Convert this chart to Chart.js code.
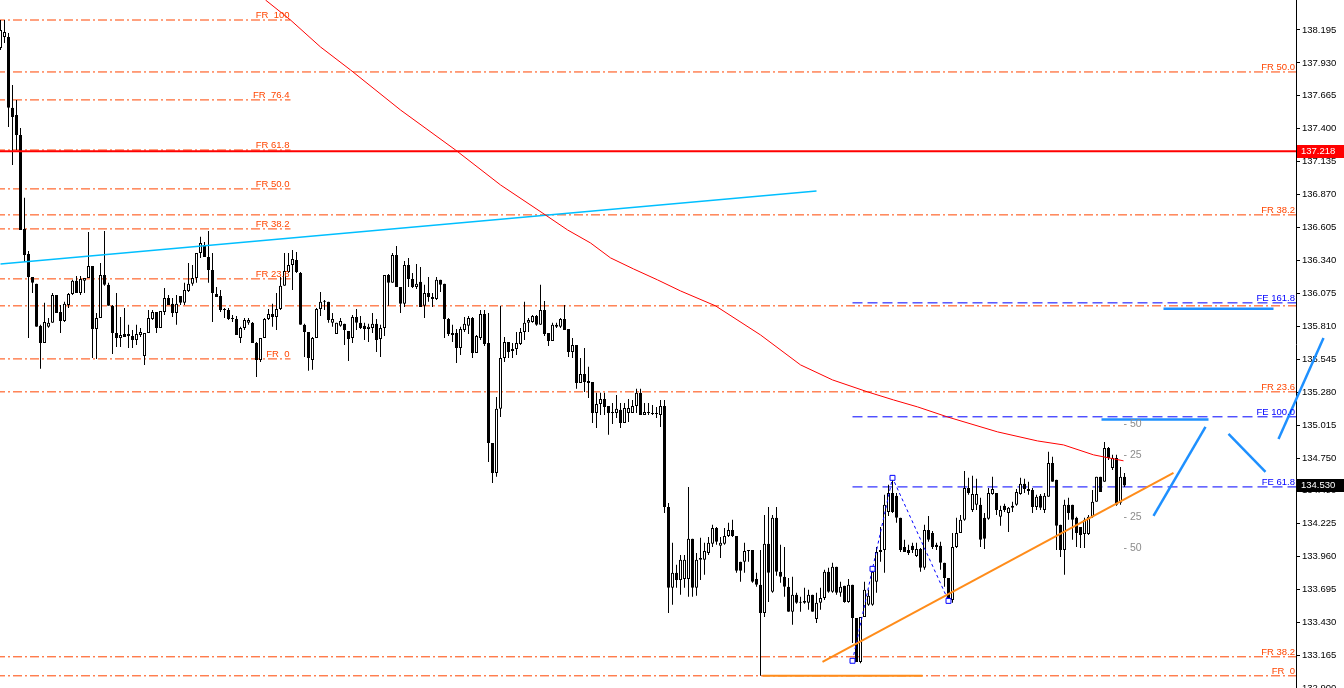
<!DOCTYPE html>
<html lang="en">
<head>
<meta charset="UTF-8">
<title>USDJPY H1</title>
<script src="https://cdn.jsdelivr.net/npm/chart.js"></script>
<style>
  html, body { margin: 0; padding: 0; background: #fff; overflow: hidden; }
  .wrap { width: 1344px; height: 688px; position: relative; }
</style>
</head>
<body>
<div class="wrap"><canvas id="chart"></canvas></div>
<script>
// candles (oldest first)
const opens = [
  138.050, 138.139, 138.139, 137.568, 137.511, 137.350, 136.594, 136.393, 136.208, 136.152,
  135.814, 135.677, 135.806, 135.838, 136.063, 135.926, 135.854, 135.982, 136.071, 136.176,
  136.079, 136.176, 136.200, 136.296, 135.789, 135.878, 136.224, 136.144, 135.975, 135.757,
  135.717, 135.749, 135.749, 135.733, 135.701, 135.741, 135.572, 135.757, 135.870, 135.926,
  135.797, 135.926, 136.039, 135.991, 135.918, 136.055, 135.999, 136.095, 136.152, 136.200,
  136.401, 136.465, 136.369, 136.264, 136.071, 136.055, 135.950, 135.942, 135.870, 135.870,
  135.717, 135.797, 135.838, 135.838, 135.677, 135.540, 135.717, 135.870, 135.910, 135.886,
  135.950, 136.136, 136.248, 136.304, 136.344, 136.240, 135.822, 135.765, 135.540, 135.717,
  135.950, 136.007, 136.007, 135.838, 135.749, 135.814, 135.830, 135.773, 135.717, 135.886,
  135.838, 135.814, 135.789, 135.797, 135.830, 135.709, 135.797, 136.224, 136.160, 136.385,
  136.127, 135.991, 136.304, 136.192, 136.127, 136.168, 135.975, 136.079, 136.047, 136.031,
  136.184, 136.152, 135.870, 135.757, 135.757, 135.636, 135.781, 135.814, 135.878, 135.596,
  135.717, 135.910, 135.677, 134.872, 134.631, 135.146, 135.556, 135.685, 135.628, 135.628,
  135.669, 135.765, 135.838, 135.846, 135.894, 135.822, 135.942, 135.757, 135.693, 135.822,
  135.806, 135.870, 135.789, 135.604, 135.660, 135.355, 135.427, 135.371, 135.363, 135.113,
  135.186, 135.226, 135.170, 135.113, 135.113, 135.138, 135.033, 135.113, 135.113, 135.170,
  135.275, 135.097, 135.121, 135.113, 135.113, 135.097, 135.170, 134.357, 133.706, 133.827,
  133.770, 133.778, 133.778, 134.100, 133.706, 133.931, 133.931, 133.987, 134.060, 134.188,
  134.044, 134.060, 134.124, 134.172, 134.124, 133.915, 133.915, 134.003, 134.011, 133.778,
  133.730, 133.504, 134.060, 133.674, 134.269, 133.835, 133.795, 133.714, 133.513, 133.650,
  133.585, 133.585, 133.585, 133.650, 133.456, 133.585, 133.625, 133.835, 133.674, 133.875,
  133.666, 133.722, 133.593, 133.730, 133.464, 133.110, 133.472, 133.569, 133.569, 133.754,
  133.995, 134.011, 134.317, 134.470, 134.446, 134.269, 134.035, 134.011, 134.044, 133.963,
  134.019, 133.867, 134.172, 134.148, 134.052, 134.044, 133.907, 133.786, 133.609, 134.035,
  134.148, 134.253, 134.510, 134.333, 134.374, 134.374, 134.269, 134.261, 134.462, 134.470,
  134.277, 134.366, 134.309, 134.350, 134.374, 134.462, 134.543, 134.502, 134.494, 134.357,
  134.446, 134.333, 134.438, 134.711, 134.575, 134.213, 134.011, 134.374, 134.374, 134.269,
  134.196, 134.140, 134.140, 134.277, 134.398, 134.599, 134.559, 134.832, 134.671, 134.751,
  134.390, 134.599
];
const highs = [
  138.275, 138.275, 138.171, 137.752, 137.632, 137.407, 136.844, 136.417, 136.208, 136.152,
  135.822, 135.999, 135.878, 136.079, 136.063, 135.982, 136.007, 136.079, 136.184, 136.216,
  136.216, 136.200, 136.570, 136.296, 135.918, 136.320, 136.578, 136.160, 135.982, 136.079,
  135.886, 135.958, 135.822, 135.781, 135.822, 135.797, 135.757, 135.942, 135.942, 135.926,
  135.934, 136.119, 136.063, 136.039, 136.063, 136.055, 136.160, 136.320, 136.304, 136.401,
  136.530, 136.489, 136.578, 136.401, 136.127, 136.103, 135.958, 135.958, 135.902, 135.894,
  135.806, 135.878, 135.878, 135.846, 135.685, 135.717, 135.878, 135.950, 135.991, 136.079,
  136.208, 136.401, 136.401, 136.425, 136.409, 136.248, 135.830, 135.765, 135.725, 135.958,
  136.087, 136.023, 136.007, 135.918, 135.838, 135.878, 135.830, 135.773, 135.902, 135.950,
  135.894, 135.838, 135.830, 135.918, 135.870, 135.822, 136.224, 136.232, 136.401, 136.457,
  136.127, 136.336, 136.361, 136.240, 136.312, 136.288, 136.144, 136.208, 136.079, 136.208,
  136.184, 136.152, 135.878, 135.822, 135.789, 135.806, 135.886, 135.894, 135.886, 135.741,
  135.942, 135.942, 135.918, 134.872, 135.242, 135.975, 135.725, 135.685, 135.677, 135.765,
  135.797, 136.007, 135.878, 135.902, 135.902, 136.144, 136.015, 135.757, 135.838, 135.838,
  135.878, 135.982, 135.789, 135.717, 135.660, 135.556, 135.636, 135.484, 135.363, 135.275,
  135.275, 135.275, 135.170, 135.194, 135.258, 135.194, 135.194, 135.226, 135.218, 135.307,
  135.307, 135.194, 135.194, 135.178, 135.162, 135.218, 135.218, 134.389, 134.068, 133.891,
  133.971, 133.971, 134.518, 134.100, 133.987, 134.108, 134.068, 134.116, 134.213, 134.196,
  134.116, 134.188, 134.229, 134.253, 134.124, 133.915, 134.068, 134.011, 134.011, 133.827,
  134.011, 134.293, 134.357, 134.293, 134.357, 134.052, 134.035, 133.786, 133.795, 133.666,
  133.634, 133.706, 133.690, 133.650, 133.666, 133.706, 133.851, 133.867, 133.907, 133.875,
  133.754, 133.722, 133.778, 133.730, 133.464, 133.472, 133.754, 133.690, 133.867, 134.035,
  134.196, 134.454, 134.535, 134.575, 134.470, 134.269, 134.092, 134.052, 134.068, 134.068,
  134.027, 134.213, 134.285, 134.164, 134.068, 134.076, 133.907, 133.786, 134.148, 134.269,
  134.293, 134.647, 134.591, 134.607, 134.583, 134.430, 134.309, 134.510, 134.599, 134.470,
  134.366, 134.382, 134.357, 134.398, 134.502, 134.591, 134.583, 134.559, 134.510, 134.454,
  134.462, 134.470, 134.800, 134.760, 134.575, 134.213, 134.414, 134.430, 134.374, 134.277,
  134.196, 134.269, 134.293, 134.494, 134.599, 134.599, 134.880, 134.840, 134.776, 134.776,
  134.679, 134.631
];
const lows = [
  138.034, 138.090, 137.415, 137.109, 137.229, 136.586, 136.328, 135.717, 136.079, 135.806,
  135.468, 135.677, 135.798, 135.838, 135.918, 135.757, 135.846, 135.958, 136.063, 136.079,
  136.063, 136.079, 136.200, 135.556, 135.548, 135.878, 136.136, 135.975, 135.588, 135.644,
  135.644, 135.725, 135.636, 135.636, 135.660, 135.725, 135.500, 135.757, 135.862, 135.757,
  135.797, 135.902, 135.982, 135.886, 135.822, 135.982, 135.982, 136.087, 136.136, 136.160,
  136.361, 136.369, 136.160, 135.846, 136.047, 135.926, 135.878, 135.862, 135.846, 135.741,
  135.677, 135.781, 135.822, 135.677, 135.403, 135.524, 135.717, 135.862, 135.806, 135.781,
  135.942, 136.136, 136.240, 136.103, 136.240, 135.822, 135.564, 135.452, 135.460, 135.717,
  135.894, 135.942, 135.838, 135.806, 135.749, 135.806, 135.660, 135.532, 135.677, 135.781,
  135.789, 135.701, 135.685, 135.757, 135.604, 135.564, 135.733, 135.975, 136.160, 136.127,
  135.918, 135.966, 136.127, 136.119, 136.111, 135.966, 135.878, 136.007, 135.966, 136.023,
  136.087, 135.717, 135.733, 135.685, 135.516, 135.580, 135.765, 135.749, 135.556, 135.596,
  135.701, 135.652, 134.719, 134.550, 134.599, 135.081, 135.524, 135.556, 135.556, 135.580,
  135.660, 135.701, 135.765, 135.838, 135.814, 135.822, 135.733, 135.652, 135.693, 135.797,
  135.797, 135.781, 135.564, 135.556, 135.307, 135.355, 135.282, 135.234, 135.033, 134.993,
  135.097, 135.097, 134.937, 135.025, 135.073, 134.993, 135.033, 135.041, 135.113, 135.113,
  135.097, 135.097, 135.097, 135.097, 135.073, 135.001, 134.309, 133.504, 133.569, 133.706,
  133.650, 133.706, 133.634, 133.634, 133.642, 133.770, 133.811, 133.971, 134.035, 134.052,
  133.947, 134.052, 134.116, 134.116, 133.827, 133.754, 133.827, 133.915, 133.746, 133.714,
  132.998, 133.472, 133.593, 133.666, 133.803, 133.746, 133.634, 133.513, 133.408, 133.577,
  133.513, 133.577, 133.529, 133.513, 133.424, 133.529, 133.609, 133.666, 133.666, 133.650,
  133.634, 133.585, 133.585, 133.263, 133.110, 133.100, 133.472, 133.561, 133.561, 133.666,
  133.915, 133.827, 134.285, 134.309, 134.229, 133.995, 133.995, 133.971, 133.987, 133.955,
  133.835, 133.851, 134.076, 134.019, 134.011, 133.851, 133.714, 133.585, 133.585, 134.027,
  134.148, 134.245, 134.454, 134.317, 134.333, 134.035, 134.019, 134.253, 134.454, 134.293,
  134.205, 134.317, 134.156, 134.317, 134.366, 134.454, 134.470, 134.454, 134.309, 134.333,
  134.333, 134.309, 134.438, 134.559, 134.011, 133.955, 133.811, 134.253, 134.092, 134.035,
  134.027, 134.027, 134.132, 134.269, 134.398, 134.478, 134.559, 134.735, 134.655, 134.366,
  134.374, 134.518
];
const closes = [
  138.195, 138.179, 137.568, 137.495, 137.350, 136.586, 136.385, 136.208, 136.160, 135.806,
  135.677, 135.846, 135.838, 136.063, 135.918, 135.854, 135.991, 136.071, 136.176, 136.079,
  136.192, 136.200, 136.296, 135.789, 135.878, 136.224, 136.144, 135.975, 135.757, 135.717,
  135.741, 135.725, 135.733, 135.701, 135.749, 135.765, 135.757, 135.878, 135.926, 135.797,
  135.934, 136.039, 135.982, 135.918, 135.991, 135.999, 136.103, 136.152, 136.200, 136.401,
  136.481, 136.369, 136.264, 136.079, 136.047, 135.942, 135.942, 135.870, 135.878, 135.741,
  135.797, 135.862, 135.862, 135.677, 135.540, 135.717, 135.870, 135.910, 135.886, 135.950,
  136.136, 136.256, 136.304, 136.352, 136.248, 135.822, 135.765, 135.556, 135.717, 135.950,
  136.007, 136.015, 135.862, 135.870, 135.838, 135.854, 135.781, 135.709, 135.886, 135.838,
  135.797, 135.789, 135.806, 135.830, 135.701, 135.797, 136.224, 136.160, 136.385, 136.127,
  135.991, 136.304, 136.192, 136.127, 136.152, 135.966, 136.079, 136.047, 136.031, 136.184,
  136.144, 135.870, 135.749, 135.741, 135.636, 135.789, 135.830, 135.878, 135.596, 135.733,
  135.910, 135.669, 134.872, 134.631, 135.146, 135.556, 135.685, 135.604, 135.612, 135.677,
  135.765, 135.838, 135.862, 135.894, 135.822, 135.942, 135.749, 135.693, 135.822, 135.806,
  135.870, 135.781, 135.604, 135.660, 135.355, 135.427, 135.363, 135.355, 135.113, 135.186,
  135.226, 135.162, 135.113, 135.121, 135.146, 135.033, 135.154, 135.154, 135.170, 135.275,
  135.097, 135.121, 135.113, 135.105, 135.105, 135.170, 134.357, 133.706, 133.827, 133.770,
  133.931, 133.931, 134.100, 133.706, 133.931, 133.947, 134.003, 134.068, 134.188, 134.076,
  134.068, 134.124, 134.172, 134.124, 133.843, 133.843, 134.003, 134.011, 133.754, 133.730,
  133.504, 134.060, 133.827, 134.269, 133.835, 133.795, 133.714, 133.513, 133.650, 133.585,
  133.593, 133.601, 133.650, 133.513, 133.585, 133.625, 133.835, 133.674, 133.875, 133.666,
  133.714, 133.593, 133.730, 133.464, 133.110, 133.472, 133.690, 133.642, 133.835, 133.995,
  134.011, 134.374, 134.470, 134.317, 134.269, 134.011, 133.995, 133.987, 134.011, 134.019,
  133.867, 134.172, 134.092, 134.035, 134.035, 133.907, 133.786, 133.609, 134.035, 134.148,
  134.253, 134.510, 134.470, 134.462, 134.462, 134.092, 134.100, 134.470, 134.502, 134.333,
  134.333, 134.333, 134.350, 134.366, 134.478, 134.543, 134.502, 134.486, 134.357, 134.438,
  134.350, 134.446, 134.711, 134.559, 134.205, 134.011, 134.374, 134.309, 134.253, 134.148,
  134.132, 134.253, 134.277, 134.398, 134.599, 134.478, 134.832, 134.751, 134.751, 134.374,
  134.599, 134.530
];

// price axis labels
const yTicks = [138.195, 137.930, 137.665, 137.400, 137.135, 136.870, 136.605, 136.340, 136.075,
  135.810, 135.545, 135.280, 135.015, 134.750, 134.490, 134.225, 133.960, 133.695, 133.430,
  133.165, 132.900];

// moving average (bar index, price)
const maX = [66.25, 72.5, 80, 87.5, 100, 113.75, 125, 136.25, 141.75, 147.5, 152.5, 158.25, 164.25,
  170, 178.75, 190, 200, 208, 216.75, 223.25, 229.25, 236.75, 249.25, 259.25, 265.75, 273.25, 280.75];
const maY = [138.436, 138.275, 138.058, 137.873, 137.551, 137.229, 136.948, 136.706, 136.586, 136.481,
  136.361, 136.272, 136.184, 136.095, 135.975, 135.741, 135.500, 135.379, 135.283, 135.218, 135.162,
  135.081, 134.961, 134.888, 134.856, 134.776, 134.728];

// fibonacci retracement on the left
const leftFibLevels = [138.275, 137.632, 137.229, 136.916, 136.594, 136.192, 135.548];
const leftFibNames = ['FR  100', 'FR  76.4', 'FR 61.8', 'FR 50.0', 'FR 38.2', 'FR 23.6', 'FR  0'];
const leftFibEnd = 72.5;
// fibonacci levels across the whole chart
const rightFibLevels = [137.857, 136.707, 135.975, 135.283, 133.151, 132.998];
const rightFibNames = ['FR 50.0', 'FR 38.2', '', 'FR 23.6', 'FR 38.2', 'FR  0'];
// fibonacci expansion
const feLevels = [135.999, 135.082, 134.518];
const feNames = ['FE 161.8', 'FE 100.0', 'FE 61.8'];
const feStart = 213;

const redLevel = 137.218;
const lastPrice = 134.530;

// trend lines
const cyanX = [0, 204], cyanY = [136.312, 136.900];
const trendX = [205.5, 293.25], trendY = [133.111, 134.631];
const baseX = [190.5, 230.5], baseY = [132.998, 132.998];
const zigX = [213, 218, 223, 237], zigY = [133.119, 133.859, 134.591, 133.601];
const projX = [[290.75, 318.25], [275.25, 302], [288.25, 301.25], [307, 316.25], [319.5, 330.75]];
const projY = [[135.952, 135.952], [135.060, 135.060], [134.285, 135.001], [134.945, 134.639], [134.904, 135.717]];

// small grey level marks
const gridMarkX = 280.75;
const gridMarkY = [135.025, 134.776, 134.277, 134.028];
const gridMarkText = ['- 50', '- 25', '- 25', '- 50'];

const X_MIN = -0.125, X_MAX = 323.875;
const FONT = '"Liberation Sans", Arial, sans-serif';

const bars = opens.map((_, i) => i);
const pts = (xs, ys) => xs.map((x, i) => ({ x: x, y: ys[i] }));

const datasets = [];

// candles: wicks under bodies
datasets.push({
  type: 'bar', label: 'wicks',
  data: bars.map(i => ({ x: i, y: [Math.min(lows[i], opens[i], closes[i]), Math.max(highs[i], opens[i], closes[i])] })),
  backgroundColor: '#000', borderWidth: 0, barThickness: 1, grouped: false, inflateAmount: 0, order: 5
});
datasets.push({
  type: 'bar', label: 'bodies',
  data: bars.map(i => ({ x: i, y: [opens[i], closes[i]] })),
  backgroundColor: bars.map(i => closes[i] >= opens[i] ? '#fff' : '#000'),
  borderColor: '#000', borderWidth: 1, borderSkipped: false, barThickness: 3, minBarLength: 1,
  grouped: false, inflateAmount: 0, order: 4
});

function hline(level, x0, x1, color, dash, width, order) {
  return {
    type: 'line', data: [{ x: x0, y: level }, { x: x1, y: level }],
    borderColor: color, borderWidth: width, borderDash: dash, pointRadius: 0, order: order
  };
}
leftFibLevels.forEach(v => datasets.push(hline(v, X_MIN - 1, leftFibEnd, '#ff4500', [9, 3, 2, 3], 1, 8)));
rightFibLevels.forEach(v => datasets.push(hline(v, X_MIN - 1, X_MAX + 1, '#ff4500', [9, 3, 2, 3], 1, 8)));
feLevels.forEach(v => datasets.push(hline(v, feStart, X_MAX + 1, '#0000ff', [10, 5], 1, 7)));
datasets.push(hline(redLevel, X_MIN - 1, X_MAX + 1, '#ff0000', [], 2, 3));

datasets.push({ type: 'line', data: pts(maX, maY), borderColor: '#ff0000', borderWidth: 1, pointRadius: 0, order: 2 });
datasets.push({ type: 'line', data: pts(cyanX, cyanY), borderColor: '#00bfff', borderWidth: 1.5, pointRadius: 0, order: 2 });
datasets.push({ type: 'line', data: pts(trendX, trendY), borderColor: '#ff8c1a', borderWidth: 2, pointRadius: 0, order: 1 });
datasets.push({ type: 'line', data: pts(baseX, baseY), borderColor: '#ff8c1a', borderWidth: 2, pointRadius: 0, order: 1 });
datasets.push({
  type: 'line', data: pts(zigX, zigY), borderColor: '#0000ff', borderWidth: 1, borderDash: [3, 3],
  pointStyle: 'rect', pointRadius: 3.5, pointBackgroundColor: '#fff', pointBorderColor: '#0000ff',
  pointBorderWidth: 1, order: 1
});
projX.forEach((xs, k) => datasets.push({
  type: 'line', data: pts(xs, projY[k]), borderColor: '#1e90ff', borderWidth: 2.5,
  pointRadius: 0, clip: false, order: 1
}));

const textPlugin = {
  id: 'mtText',
  afterDatasetsDraw(chart) {
    const { ctx, scales: { x, y } } = chart;
    ctx.save();
    ctx.font = '9.5px ' + FONT;
    ctx.textAlign = 'right';
    ctx.textBaseline = 'alphabetic';
    ctx.fillStyle = '#ff4500';
    leftFibLevels.forEach((v, i) => ctx.fillText(leftFibNames[i], x.getPixelForValue(leftFibEnd) - 1, y.getPixelForValue(v) - 2));
    rightFibLevels.forEach((v, i) => ctx.fillText(rightFibNames[i], chart.chartArea.right - 1, y.getPixelForValue(v) - 2));
    ctx.fillStyle = '#0000ff';
    feLevels.forEach((v, i) => ctx.fillText(feNames[i], chart.chartArea.right - 1, y.getPixelForValue(v) - 2));
    ctx.font = '10.5px ' + FONT;
    ctx.textAlign = 'left';
    ctx.textBaseline = 'middle';
    ctx.fillStyle = '#8c8c8c';
    gridMarkY.forEach((v, i) => ctx.fillText(gridMarkText[i], x.getPixelForValue(gridMarkX), y.getPixelForValue(v)));
    ctx.restore();
  },
  afterDraw(chart) {
    const { ctx, scales: { y } } = chart;
    const left = chart.chartArea.right + 1;
    ctx.save();
    ctx.font = '9.5px ' + FONT;
    ctx.textBaseline = 'middle';
    ctx.textAlign = 'left';
    [[redLevel, '#ff0000'], [lastPrice, '#000']].forEach(([v, c]) => {
      const py = Math.round(y.getPixelForValue(v));
      ctx.fillStyle = c;
      ctx.fillRect(left, py - 6, chart.width - left, 13);
      ctx.fillStyle = '#fff';
      ctx.fillText(v.toFixed(3), left + 4, py + 0.5);
    });
    ctx.restore();
  }
};

new Chart(document.getElementById('chart'), {
  type: 'bar',
  data: { datasets: datasets },
  options: {
    responsive: true,
    maintainAspectRatio: false,
    animation: false,
    events: [],
    layout: { padding: 0, autoPadding: false },
    plugins: { legend: { display: false }, tooltip: { enabled: false } },
    scales: {
      x: { type: 'linear', display: false, min: X_MIN, max: X_MAX, offset: false },
      y: {
        position: 'right',
        min: 132.900,
        max: 138.436,
        afterBuildTicks: s => { s.ticks = yTicks.map(v => ({ value: v })); },
        afterFit: s => { s.width = 48; s.paddingTop = 0; s.paddingBottom = 0; },
        ticks: {
          color: '#000', padding: 2, autoSkip: false,
          font: { family: FONT, size: 9.5 },
          callback: v => Number(v).toFixed(3)
        },
        grid: { drawOnChartArea: false, drawTicks: true, tickLength: 4, tickColor: '#000' },
        border: { display: true, color: '#000', width: 1 }
      }
    }
  },
  plugins: [textPlugin]
});
</script>
</body>
</html>
